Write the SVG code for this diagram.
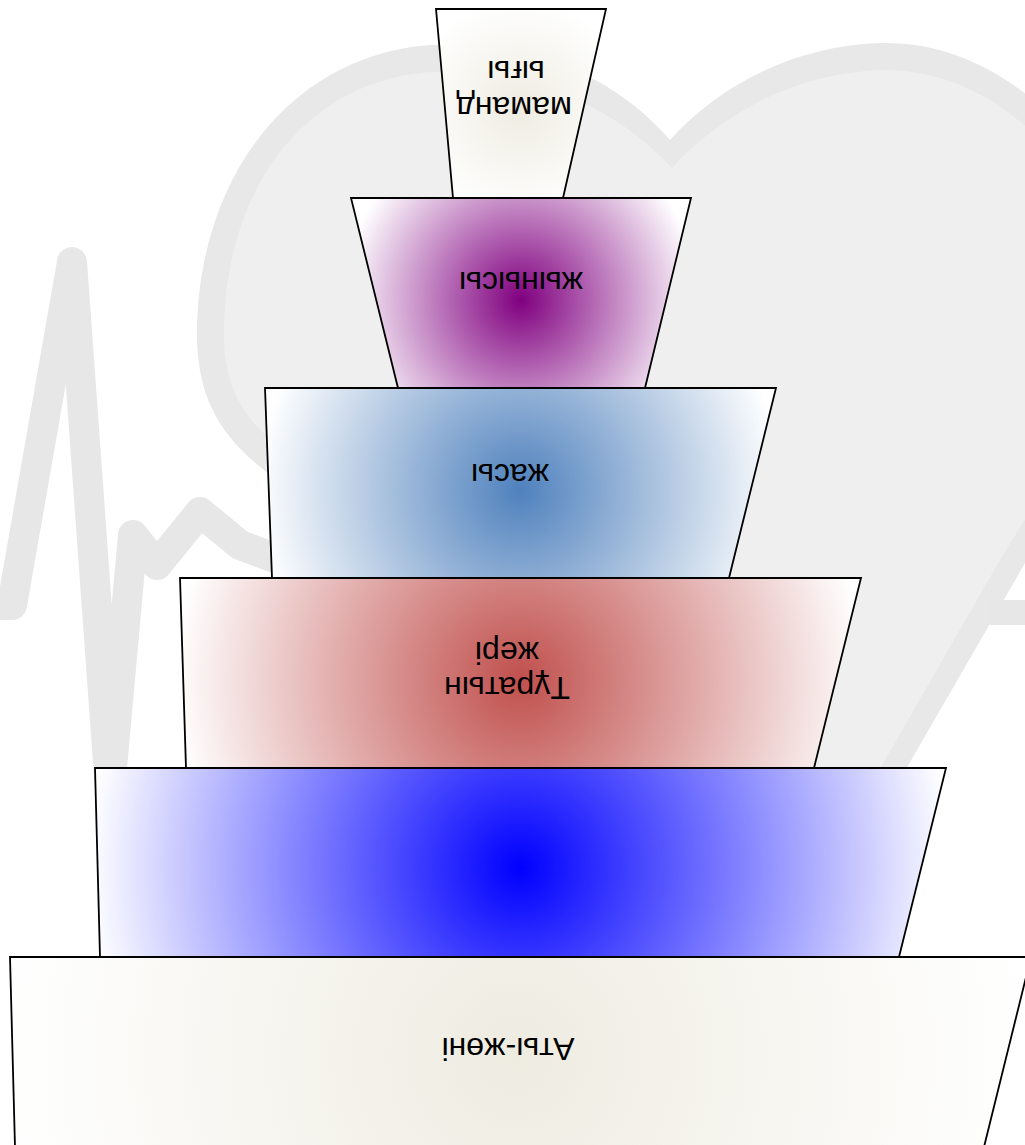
<svg xmlns="http://www.w3.org/2000/svg" width="1025" height="1145" viewBox="0 0 1025 1145">
<style>
.shape{stroke:#000;stroke-width:1.8;stroke-linejoin:miter}
.lbl{font-family:"Liberation Sans",Arial,sans-serif;font-size:32px;fill:#000;text-anchor:middle}
.ekg{fill:none;stroke:#e7e7e7;stroke-width:30;stroke-linejoin:round;stroke-linecap:round}
</style>
<defs>
<radialGradient id="g1" gradientUnits="userSpaceOnUse" cx="520" cy="108" r="110"><stop offset="0" stop-color="#eeece1"/><stop offset="1" stop-color="#ffffff"/></radialGradient>
<radialGradient id="g2" gradientUnits="userSpaceOnUse" cx="521" cy="300" r="178"><stop offset="0" stop-color="#800080"/><stop offset="1" stop-color="#ffffff"/></radialGradient>
<radialGradient id="g3" gradientUnits="userSpaceOnUse" cx="520" cy="490" r="262"><stop offset="0" stop-color="#4f81bd"/><stop offset="1" stop-color="#ffffff"/></radialGradient>
<radialGradient id="g4" gradientUnits="userSpaceOnUse" cx="520" cy="680" r="345"><stop offset="0" stop-color="#c0504d"/><stop offset="1" stop-color="#ffffff"/></radialGradient>
<radialGradient id="g5" gradientUnits="userSpaceOnUse" cx="520" cy="868" r="432"><stop offset="0" stop-color="#0000ff"/><stop offset="1" stop-color="#ffffff"/></radialGradient>
<radialGradient id="g6" gradientUnits="userSpaceOnUse" cx="515" cy="1055" r="515"><stop offset="0" stop-color="#eeece1"/><stop offset="1" stop-color="#ffffff"/></radialGradient>
</defs>
<rect width="1025" height="1145" fill="#ffffff"/>
<g id="background">
<path d="M670,140 C610,70 520,40 430,45 C290,55 195,180 197,340 C199,400 220,440 280,482 L868,835 L1025,563 L1100,440 C1200,250 1050,40 883,43 C790,45 715,90 670,140 Z" fill="#e8e8e8"/>
<path d="M672,168 C610,100 520,70 432,72 C305,80 222,190 224,340 C226,392 245,425 298,460 L862,800 L1000,560 L1080,430 C1170,260 1040,70 885,70 C795,72 720,115 672,168 Z" fill="#efefef"/>
<polyline class="ekg" points="-20,605 12,605 72,262 110,790 133,535 157,565 200,512 240,545 280,560"/>
<rect x="990" y="600" width="45" height="25" fill="#e7e7e7"/>
</g>
<g id="connectors"/>
<g id="node-atyzhoni">
<polygon class="shape" fill="url(#g6)" points="10,957 1031,957 984,1147 15,1147"/>
<text class="lbl" transform="translate(508,1046) rotate(180)" x="0" y="8">Аты-жөні</text>
</g>
<g id="node-blue">
<polygon class="shape" fill="url(#g5)" points="95,768 946,768 899,957 100,957"/>
</g>
<g id="node-turatyn">
<polygon class="shape" fill="url(#g4)" points="180,578 861,578 814,768 186,768"/>
<text class="lbl" transform="translate(507,685) rotate(180)" x="0" y="8">Тұратын</text>
<text class="lbl" transform="translate(507,650) rotate(180)" x="0" y="8">жері</text>
</g>
<g id="node-zhasy">
<polygon class="shape" fill="url(#g3)" points="265,388 776,388 729,578 272,578"/>
<text class="lbl" transform="translate(510,472) rotate(180)" x="0" y="8">жасы</text>
</g>
<g id="node-zhynysy">
<polygon class="shape" fill="url(#g2)" points="351,198 691,198 645,388 398,388"/>
<text class="lbl" transform="translate(521,280) rotate(180)" x="0" y="8">жынысы</text>
</g>
<g id="node-mamandygy">
<polygon class="shape" fill="url(#g1)" points="436,9 606,9 563,198 453,198"/>
<text class="lbl" transform="translate(514,105) rotate(180)" x="0" y="8">маманд</text>
<text class="lbl" transform="translate(516,69) rotate(180)" x="0" y="8">ығы</text>
</g>
</svg>
